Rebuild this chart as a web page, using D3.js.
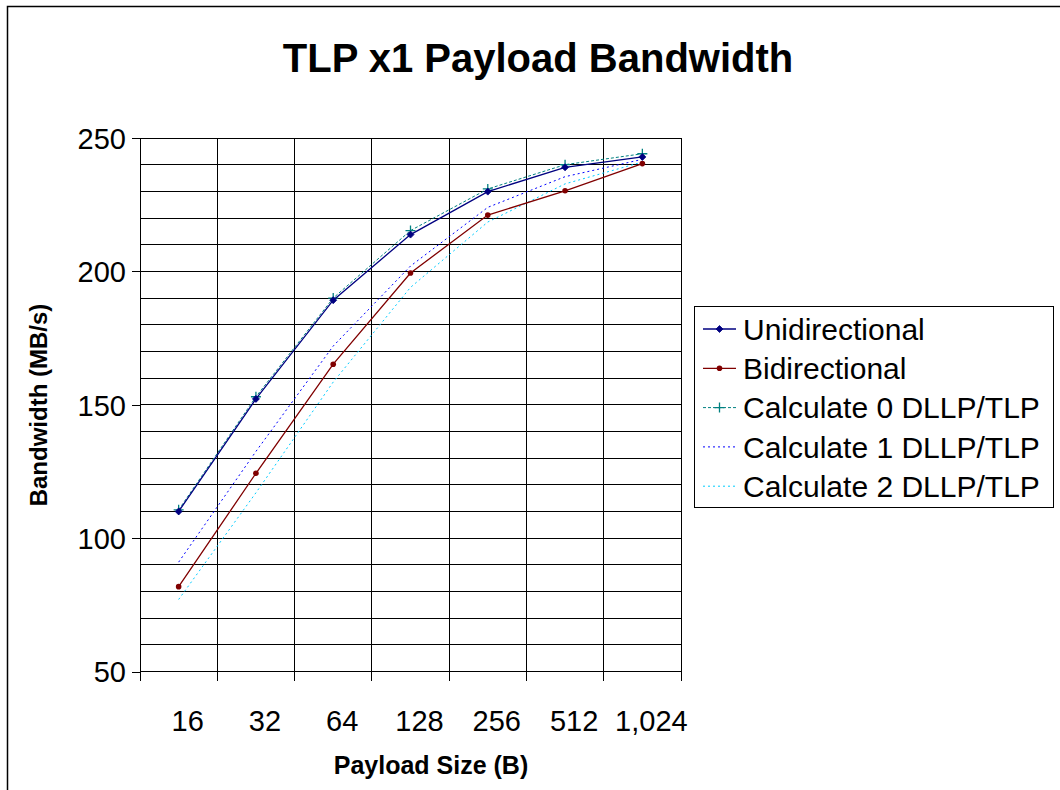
<!DOCTYPE html>
<html><head><meta charset="utf-8">
<script src="https://cdn.jsdelivr.net/npm/d3@7/dist/d3.min.js"></script>
<style>body{margin:0;background:#fff}svg{display:block;font-family:"Liberation Sans",Arial,sans-serif}</style>
</head><body>
<script>
const categories = ["16","32","64","128","256","512","1,024"];
const unidirectional = [110, 152.2, 189.2, 213.8, 229.9, 239, 242.9];
const bidirectional  = [81.8, 124.3, 165.2, 199.4, 221.1, 230.2, 240.4];
const calc0 = [110.6, 153, 190, 215.3, 230.9, 240, 244.1];
const calc1 = [91, 132.5, 172, 202, 224, 235.5, 242];
const calc2 = [77, 117, 158.5, 194, 218.5, 232.8, 241];
const yTicks = [50, 100, 150, 200, 250];

const W = 1060, H = 790;
const svg = d3.select("body").append("svg").attr("width", W).attr("height", H);
svg.append("rect").attr("x",7.5).attr("y",6.5).attr("width",1200).attr("height",1000)
  .attr("fill","#fff").attr("stroke","#000").attr("stroke-width",1.5);

const L = 140, R = 681, T = 138, B = 671.5;
const x = d3.scaleBand().domain(categories).range([L, R]).padding(0);
const y = d3.scaleLinear().domain([50, 250]).range([B, T]);

// grid
const g = svg.append("g").attr("shape-rendering","crispEdges");
g.selectAll(".hg").data(d3.range(50, 251, 10)).enter().append("line")
  .attr("x1", L).attr("x2", R).attr("y1", d => y(d)).attr("y2", d => y(d))
  .attr("stroke", "#000").attr("stroke-width", 1);
const bounds = categories.map(c => x(c)).concat([R]);
g.selectAll(".vg").data(bounds).enter().append("line")
  .attr("x1", d => d).attr("x2", d => d).attr("y1", T).attr("y2", B + 9)
  .attr("stroke", "#000").attr("stroke-width", 1);

// y axis
const yAxis = d3.axisLeft(y).tickValues(yTicks).tickSize(8).tickPadding(6);
const ya = svg.append("g").attr("transform", `translate(${L},0)`).call(yAxis);
ya.select(".domain").remove();
ya.selectAll("line").attr("stroke","#000").attr("shape-rendering","crispEdges");
ya.selectAll("text").attr("font-size", 29).attr("fill","#000")
  .attr("font-family",'"Liberation Sans",Arial,sans-serif').attr("dy","0.36em");

// x labels
const xAxis = d3.axisBottom(x).tickSize(0).tickPadding(0);
const xa = svg.append("g").attr("transform", `translate(0,${B})`).call(xAxis);
xa.select(".domain").remove();
xa.selectAll("text").attr("font-size", 29).attr("fill","#000").attr("dx", 9).attr("dy", 0).attr("y", 59)
  .attr("font-family",'"Liberation Sans",Arial,sans-serif');

// titles
svg.append("text").attr("x", 538).attr("y", 72).attr("text-anchor","middle")
  .attr("font-size", 40).attr("font-weight","bold").text("TLP x1 Payload Bandwidth");
svg.append("text").attr("x", 431).attr("y", 774).attr("text-anchor","middle")
  .attr("font-size", 25).attr("font-weight","bold").text("Payload Size (B)");
svg.append("text").attr("transform","translate(47,405) rotate(-90)").attr("text-anchor","middle")
  .attr("font-size", 24).attr("font-weight","bold").text("Bandwidth (MB/s)");

const series = [
  {name:"Unidirectional", values: unidirectional, color:"#000080", dash:null, width:1.3, marker:"diamond"},
  {name:"Bidirectional", values: bidirectional, color:"#800000", dash:null, width:1.3, marker:"circle"},
  {name:"Calculate 0 DLLP/TLP", values: calc0, color:"#008080", dash:"3,2", width:1, marker:"plus"},
  {name:"Calculate 1 DLLP/TLP", values: calc1, color:"#0000ff", dash:"2,3", width:1, marker:null},
  {name:"Calculate 2 DLLP/TLP", values: calc2, color:"#00ccff", dash:"2,3", width:1, marker:null}
];
const cx = c => x(c) + x.bandwidth() / 2;
const line = d3.line().x(d => cx(d.c)).y(d => y(d.v));

function drawMarker(sel, type, color) {
  if (type === "diamond") {
    sel.append("path").attr("d", "M0,-3.5L3.5,0L0,3.5L-3.5,0Z").attr("fill", color).attr("stroke", color).attr("stroke-width", 0.8);
  } else if (type === "circle") {
    sel.append("circle").attr("r", 2.8).attr("fill", color);
  } else if (type === "plus") {
    sel.append("path").attr("d", "M-5,0H5M0,-5V5").attr("stroke", color).attr("stroke-width", 1.3).attr("fill","none");
  }
}

// draw order: calc lines behind measured
const order = [4, 3, 2, 1, 0];
order.forEach(i => {
  const s = series[i];
  const pts = categories.map((c, k) => ({c, v: s.values[k]}));
  svg.append("path").datum(pts).attr("d", line).attr("fill","none")
    .attr("stroke", s.color).attr("stroke-width", s.width)
    .attr("stroke-dasharray", s.dash);
  if (s.marker) {
    pts.forEach(p => {
      const m = svg.append("g").attr("transform", `translate(${cx(p.c)},${y(p.v)})`);
      drawMarker(m, s.marker, s.color);
    });
  }
});

// legend
const lg = svg.append("g");
lg.append("rect").attr("x", 694.5).attr("y", 306.5).attr("width", 359).attr("height", 201)
  .attr("fill","#fff").attr("stroke","#000").attr("stroke-width",1);
series.forEach((s, i) => {
  const yy = 329 + i * 39.3;
  lg.append("line").attr("x1", 703).attr("x2", 736).attr("y1", yy).attr("y2", yy)
    .attr("stroke", s.color).attr("stroke-width", s.width).attr("stroke-dasharray", s.dash);
  if (s.marker) drawMarker(lg.append("g").attr("transform", `translate(719.5,${yy})`), s.marker, s.color);
  lg.append("text").attr("x", 743).attr("y", yy).attr("dy","0.36em").attr("font-size", 30).text(s.name);
});
</script>
</body></html>
